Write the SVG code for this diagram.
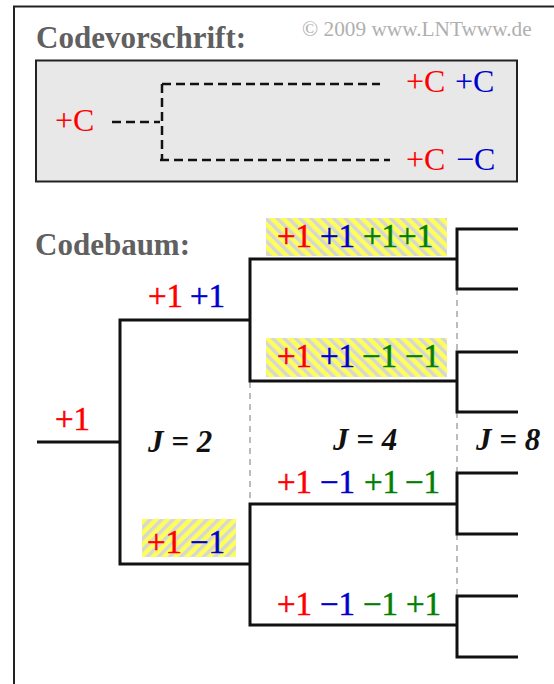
<svg xmlns="http://www.w3.org/2000/svg" width="554" height="684" viewBox="0 0 554 684">
<defs>
<pattern id="hatchA" patternUnits="userSpaceOnUse" width="8" height="8" patternTransform="rotate(-45)">
<rect x="0" y="0" width="8" height="8" fill="#ffff5a"/>
<rect x="0" y="0" width="3.5" height="8" fill="#d6d6d6"/>
</pattern>
<pattern id="hatchB" patternUnits="userSpaceOnUse" width="8" height="8" patternTransform="rotate(45)">
<rect x="0" y="0" width="8" height="8" fill="#ffff5a"/>
<rect x="0" y="0" width="3.5" height="8" fill="#d6d6d6"/>
</pattern>
<style>
.t{font-family:"Liberation Serif","Times New Roman",serif;font-size:32px}
.n{font-family:"Liberation Serif","Times New Roman",serif;font-size:33px;stroke-width:0.5px}
.h{font-family:"Liberation Serif","Times New Roman",serif;font-size:31px;font-weight:bold;fill:#606060}
.j{font-family:"Liberation Serif","Times New Roman",serif;font-size:31px;font-weight:bold;font-style:italic;fill:#111}
.r{fill:#ff0000;stroke:#ff0000}.b{fill:#0000cc;stroke:#0000cc}.g{fill:#008000;stroke:#008000}
.t .r,.t .b,.t.r{stroke:none}
.tree{fill:none;stroke:#111;stroke-width:3;stroke-linejoin:miter}
.grid{fill:none;stroke:#999;stroke-width:1.3;stroke-dasharray:6,5}
.rule{fill:none;stroke:#111;stroke-width:2.5;stroke-dasharray:9,5}
</style>
</defs>
<rect x="0" y="0" width="554" height="684" fill="#fff"/>
<g id="frame">
<path d="M14,684 V6.5 H554" fill="none" stroke="#222" stroke-width="2"/>
</g>
<g id="copyright">
<text x="302" y="36" font-family="Liberation Serif, Times New Roman, serif" font-size="21.3" fill="#b0b0b0">© 2009 www.LNTwww.de</text>
</g>
<g id="codevorschrift">
<text class="h" x="36" y="48">Codevorschrift:</text>
<rect x="36" y="60.5" width="481" height="121" fill="#e8e8e8" stroke="#222" stroke-width="2"/>
<g id="rule-lines">
<path class="rule" d="M112,122 H160"/>
<path class="rule" d="M162,84 H380"/>
<path class="rule" d="M162,84 V160"/>
<path class="rule" d="M160,160 H390"/>
</g>
<text class="t r" x="55" y="131">+C</text>
<text class="t" y="92"><tspan class="r" x="406">+C</tspan><tspan class="b" x="455">+C</tspan></text>
<text class="t" y="170"><tspan class="r" x="406">+C</tspan><tspan class="b" x="456">−C</tspan></text>
</g>
<text class="h" x="35" y="255">Codebaum:</text>
<g id="highlights">
<rect x="266" y="218" width="181" height="38" fill="url(#hatchA)"/>
<rect x="266" y="338" width="181" height="39" fill="url(#hatchA)"/>
<rect x="142" y="519" width="94" height="38" fill="url(#hatchB)"/>
</g>
<g id="connectors">
<path class="grid" d="M250,382 V504"/>
<path class="grid" d="M457,289 V352"/>
<path class="grid" d="M457,412 V473"/>
<path class="grid" d="M457,534 V596"/>
<path class="tree" d="M37,442 H120"/>
<path class="tree" d="M250,320 H120 V564 H250"/>
<path class="tree" d="M457,259 H250 V381 H457"/>
<path class="tree" d="M457,504 H250 V625 H457"/>
<path class="tree" d="M518,229 H457 V289 H518"/>
<path class="tree" d="M518,352 H457 V412 H518"/>
<path class="tree" d="M518,473 H457 V534 H518"/>
<path class="tree" d="M518,596 H457 V657 H518"/>
</g>
<g id="node-root"><text class="n r" x="55" y="430">+1</text></g>
<g id="node-upper"><text class="n" y="307"><tspan class="r" x="148">+1</tspan><tspan class="b" x="190">+1</tspan></text></g>
<g id="node-lower"><text class="n" y="553"><tspan class="r" x="147">+1</tspan><tspan class="b" x="190">−1</tspan></text></g>
<g id="node-pppp"><text class="n" y="247"><tspan class="r" x="277">+1</tspan><tspan class="b" x="320">+1</tspan><tspan class="g" x="363">+1+1</tspan></text></g>
<g id="node-ppmm"><text class="n" y="367"><tspan class="r" x="277">+1</tspan><tspan class="b" x="320">+1</tspan><tspan class="g" x="362">−1</tspan><tspan class="g" x="405">−1</tspan></text></g>
<g id="node-pmpm"><text class="n" y="493"><tspan class="r" x="277">+1</tspan><tspan class="b" x="320">−1</tspan><tspan class="g" x="364">+1</tspan><tspan class="g" x="405">−1</tspan></text></g>
<g id="node-pmmp"><text class="n" y="615"><tspan class="r" x="277">+1</tspan><tspan class="b" x="320">−1</tspan><tspan class="g" x="363">−1</tspan><tspan class="g" x="406">+1</tspan></text></g>
<g id="labels-J">
<text class="j" x="148" y="452">J = 2</text>
<text class="j" x="333" y="450">J = 4</text>
<text class="j" x="476" y="450">J = 8</text>
</g>
</svg>
